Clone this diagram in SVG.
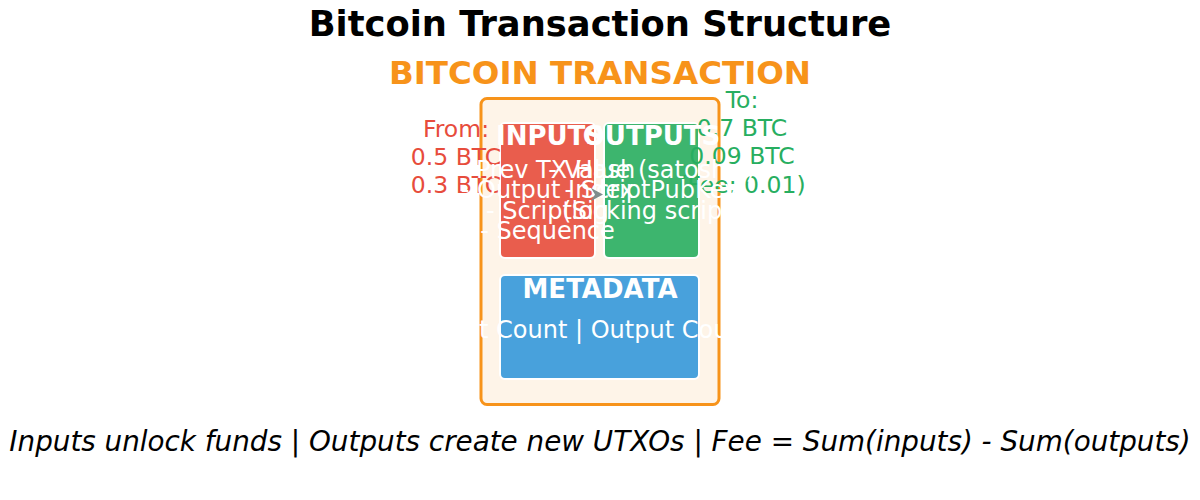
<svg xmlns="http://www.w3.org/2000/svg" width="1200" height="500" viewBox="0 0 1200 500">
<style>
text{font-family:"DejaVu Sans","Liberation Sans",sans-serif;text-anchor:middle}
.title{font-size:35.3px;font-weight:bold;fill:#000}
.sub{font-size:32.5px;font-weight:bold;fill:#F7931A}
.hdr{font-size:26px;font-weight:bold;fill:#fff}
.det{font-size:24px;fill:#fff}
.from{font-size:23.5px;fill:#e74c3c}
.to{font-size:23.5px;fill:#27ae60}
.foot{font-size:27.8px;font-style:italic;fill:#000}
.inner{stroke:#fff;stroke-width:2}
</style>
<rect width="1200" height="500" fill="#fff"/>
<text class="title" x="600" y="36">Bitcoin Transaction Structure</text>
<g id="node-transaction">
<text class="sub" x="600" y="84">BITCOIN TRANSACTION</text>
<rect x="481" y="98.5" width="238" height="306" rx="6" fill="#fef4e8" stroke="#F7931A" stroke-width="3"/>
</g>
<g id="node-inputs-box"><rect class="inner" x="500" y="123" width="95" height="135" rx="5" fill="#e95d4d"/></g>
<g id="node-outputs-box"><rect class="inner" x="604" y="123" width="95" height="135" rx="5" fill="#3db56e"/></g>
<g id="node-metadata-box"><rect class="inner" x="500" y="275" width="199" height="104" rx="5" fill="#48a1dc"/></g>
<g id="node-from">
<text class="from" x="456" y="137">From:</text>
<text class="from" x="456" y="164.5">0.5 BTC</text>
<text class="from" x="456" y="192.5">0.3 BTC</text>
</g>
<g id="node-to">
<text class="to" x="742" y="108">To:</text>
<text class="to" x="742" y="136">0.7 BTC</text>
<text class="to" x="742" y="164">0.09 BTC</text>
<text class="to" x="742" y="193">(Fee: 0.01)</text>
</g>
<g id="node-inputs">
<text class="hdr" x="550" y="145">INPUTS</text>
<text class="det" x="547.5" y="177.5">- Prev TX Hash</text>
<text class="det" x="547.5" y="198">- Output Index</text>
<text class="det" x="547.5" y="218.5">- ScriptSig</text>
<text class="det" x="547.5" y="239">- Sequence</text>
</g>
<g id="node-outputs">
<text class="hdr" x="651.5" y="145">OUTPUTS</text>
<text class="det" x="651.5" y="177.5">- Value (satoshis)</text>
<text class="det" x="651.5" y="198">- ScriptPubKey</text>
<text class="det" x="651.5" y="218.5">(locking script)</text>
</g>
<g id="node-metadata">
<text class="hdr" x="600" y="298">METADATA</text>
<text class="det" x="600" y="338">Version | Input Count | Output Count | Locktime</text>
</g>
<g id="connectors">
<path d="M591,188 L603,194.5 L591,201 L595,194.5 Z" fill="#7f8c8d"/>
</g>
<text class="foot" x="600" y="451">Inputs unlock funds | Outputs create new UTXOs | Fee = Sum(inputs) - Sum(outputs)</text>
</svg>
